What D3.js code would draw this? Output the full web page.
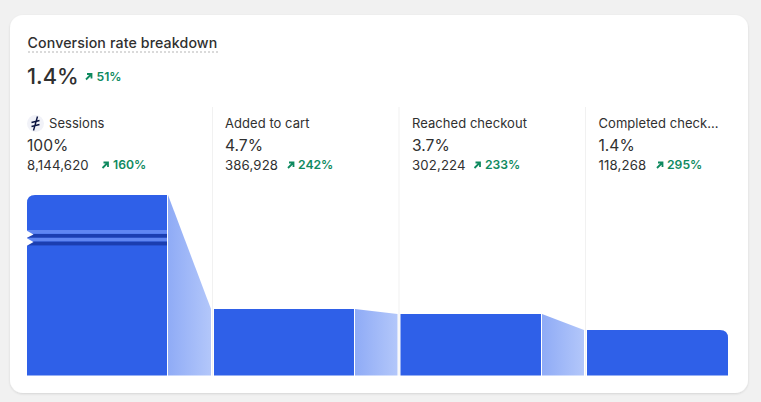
<!DOCTYPE html>
<html><head><meta charset="utf-8">
<script src="https://cdn.jsdelivr.net/npm/d3@7"></script>
<style>html,body{margin:0;padding:0;background:#f1f1f1;overflow:hidden}svg{display:block}text{font-family:Inter,"Noto Sans",sans-serif}</style>
</head><body><div id="c"></div>
<script>
const title = "Conversion rate breakdown";
const headlineValue = "1.4%";
const headlineChange = "51%";
const steps = ["Sessions", "Added to cart", "Reached checkout", "Completed check..."];
const rates = [100, 4.7, 3.7, 1.4];
const rateLabels = ["100%", "4.7%", "3.7%", "1.4%"];
const counts = ["8,144,620", "386,928", "302,224", "118,268"];
const changes = ["160%", "242%", "233%", "295%"];

const W = 761, H = 402, base = 375.5;
const svg = d3.select("#c").append("svg").attr("width", W).attr("height", H);
const defs = svg.append("defs");
const grad = defs.append("linearGradient").attr("id", "conn");
grad.append("stop").attr("offset", "0").attr("stop-color", "#8fabf6");
grad.append("stop").attr("offset", "1").attr("stop-color", "#b3c7fa");
const f = defs.append("filter").attr("id", "sh").attr("x", "-5%").attr("y", "-5%").attr("width", "110%").attr("height", "110%");
f.append("feDropShadow").attr("dx", 0).attr("dy", 1).attr("stdDeviation", 1).attr("flood-color", "#000").attr("flood-opacity", .12);

svg.append("rect").attr("x", 10).attr("y", 15).attr("width", 738).attr("height", 378).attr("rx", 13).attr("fill", "#fff").attr("filter", "url(#sh)");

// broken, non-linear funnel scale
const y = d3.scaleLinear().domain([0, 1.4, 3.7, 4.7, 100]).range([base, 330, 314, 309, 195]);
const colX = d3.scaleOrdinal().domain(steps).range([27, 214, 400.5, 587]);
const colText = d3.scaleOrdinal().domain(steps).range([27, 225, 412, 598.5]);
const barW = d3.scaleOrdinal().domain(steps).range([140, 140, 140.5, 141]);
const ink = "#303030", green = "#0f8a5f", blue = "#2f60e8";

svg.append("text").attr("x", 27.5).attr("y", 48).attr("font-size", 14.2).attr("letter-spacing", 0.12).attr("font-weight", 550).attr("fill", ink).text(title);
svg.append("line").attr("x1", 28).attr("x2", 218).attr("y1", 52).attr("y2", 52).attr("stroke", "#b5b5b5").attr("stroke-width", 1).attr("stroke-dasharray", "2 2");
svg.append("text").attr("x", 27).attr("y", 84).attr("font-size", 21.8).attr("font-weight", 550).attr("fill", ink).text(headlineValue);

function arrow(g, x, cy) {
  g.append("path").attr("d", `M${x} ${cy + 3}L${x + 5} ${cy - 2}M${x + 1} ${cy - 2.5}H${x + 5.5}V${cy + 2}`)
    .attr("fill", "none").attr("stroke", green).attr("stroke-width", 1.8);
}
arrow(svg, 86, 76.5);
svg.append("text").attr("x", 96.5).attr("y", 81).attr("font-size", 12.2).attr("font-weight", 600).attr("fill", green).text(headlineChange);

// column separators
svg.selectAll("line.sep").data(steps.slice(1)).join("line").attr("class", "sep")
  .attr("x1", d => colX(d) - 1.5).attr("x2", d => colX(d) - 1.5).attr("y1", 107).attr("y2", base)
  .attr("stroke", "#f1f1f1");

// connectors
const pairs = d3.pairs(steps.map((s, i) => ({ s, v: rates[i] })));
svg.selectAll("path.conn").data(pairs).join("path").attr("class", "conn")
  .attr("fill", "url(#conn)")
  .attr("d", ([a, b]) => {
    const x0 = colX(a.s) + barW(a.s) + 1, x1 = colX(b.s) - 3;
    return `M${x0} ${y(a.v)}L${x1} ${y(b.v)}V${base}H${x0}Z`;
  });

// bars, rounded at the outer top corners
const r = 8;
svg.selectAll("path.bar").data(steps.map((s, i) => ({ s, v: rates[i], i }))).join("path").attr("class", "bar")
  .attr("fill", blue)
  .attr("d", d => {
    const x = colX(d.s), t = y(d.v), e = x + barW(d.s);
    const rl = d.i === 0 ? r : 0, rr = d.i === steps.length - 1 ? r : 0;
    return `M${x} ${base}V${t + rl}Q${x} ${t} ${x + rl} ${t}H${e - rr}Q${e} ${t} ${e} ${t + rr}V${base}Z`;
  });

// axis-break stripes on the first bar
const b0 = colX(steps[0]);
[[230, "#5f86f2"], [234, "#1b3eb0"], [237.8, "#5f86f2"], [241.6, "#1b3eb0"]].forEach(([yy, c]) => {
  svg.append("rect").attr("x", b0).attr("y", yy).attr("width", barW(steps[0])).attr("height", 3.8).attr("fill", c);
});
svg.append("path").attr("fill", "#fff").attr("d", `M${b0 - 0.5} 230.5L${b0 + 6.5} 234.5L${b0 - 0.5} 238Z`);
svg.append("path").attr("fill", "#fff").attr("d", `M${b0 - 0.5} 238L${b0 + 6.5} 242L${b0 - 0.5} 246Z`);

// icon
const ic = svg.append("g");
ic.append("circle").attr("cx", 35.5).attr("cy", 123.5).attr("r", 8.5).attr("fill", "#f1f2f8");
ic.append("path").attr("d", "M37.5 116.5L33.5 130.5M31.5 122.5L39.5 120.5M31.5 126.5L39.5 124.5").attr("fill", "none").attr("stroke", "#0b1440").attr("stroke-width", 1.4);

// column text
const cols = svg.selectAll("g.col").data(steps.map((s, i) => ({ s, i }))).join("g").attr("class", "col");
cols.append("text").attr("x", d => d.i === 0 ? 49 : colText(d.s)).attr("y", 128).attr("font-size", 13).attr("letter-spacing", 0.05).attr("fill", ink).text(d => d.s);
cols.append("text").attr("x", d => d.i === 0 ? 27 : colText(d.s)).attr("y", 151).attr("font-size", 15.6).attr("fill", ink).text(d => rateLabels[d.i]);
cols.append("text").attr("x", d => d.i === 0 ? 27 : colText(d.s)).attr("y", 170).attr("font-size", 13.2).attr("letter-spacing", 0.15).attr("fill", ink).text(d => counts[d.i]);
const chX = [113, 298, 485, 667];
const arX = [102.5, 288, 474.5, 657];
cols.each(function (d) { arrow(d3.select(this), arX[d.i], 165); });
cols.append("text").attr("x", d => chX[d.i]).attr("y", 169).attr("font-size", 12.2).attr("font-weight", 600).attr("fill", green).text(d => changes[d.i]);
</script></body></html>
